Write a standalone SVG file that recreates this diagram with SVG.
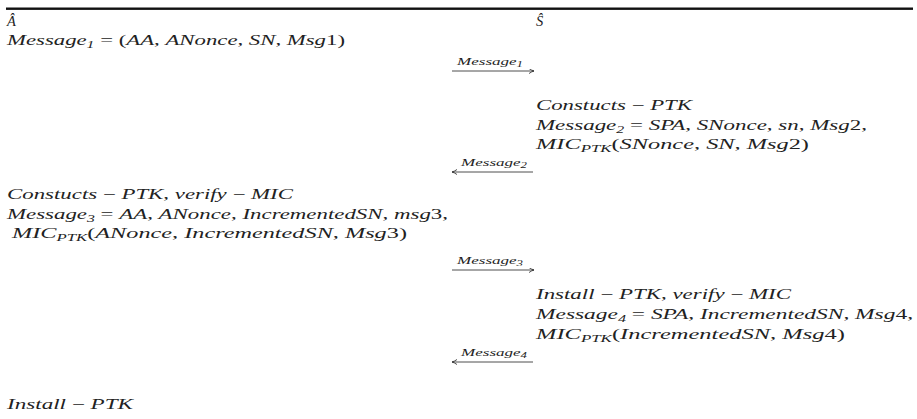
<svg xmlns="http://www.w3.org/2000/svg" width="917" height="419" viewBox="0 0 917 419">
<style>
text{font-family:"Liberation Serif","Times New Roman",serif;font-style:italic;font-size:14.5px;fill:#222}
.u{font-style:normal}
.s{font-size:10px}
.l{font-size:10px}
.ls{font-size:7.5px}
.arr{stroke:#222;stroke-width:0.8;fill:none}
</style>
<defs>
<marker id="ah" markerUnits="userSpaceOnUse" markerWidth="8" markerHeight="8" refX="5" refY="2.5" orient="auto">
<path d="M0,0 Q2.5,1.8 5,2.5 Q2.5,3.2 0,5" fill="none" stroke="#222" stroke-width="0.8"/>
</marker>
</defs>
<rect x="6" y="7.5" width="907" height="2.4" fill="#111"/>
<g id="A-header"><text x="7" y="26">Â</text></g>
<g id="S-header"><text x="536" y="26">Ŝ</text></g>
<g id="A-msg1"><text x="7" y="45" textLength="338" lengthAdjust="spacingAndGlyphs">Message<tspan class="s" dy="3">1</tspan><tspan class="u" dy="-3"> = (</tspan>AA<tspan class="u">, </tspan>ANonce<tspan class="u">, </tspan>SN<tspan class="u">, </tspan>Msg<tspan class="u">1)</tspan></text></g>
<g id="S-step1">
<text x="536" y="110" textLength="156" lengthAdjust="spacingAndGlyphs">Constucts<tspan class="u"> − </tspan>PTK</text>
<text x="536" y="130" textLength="331" lengthAdjust="spacingAndGlyphs">Message<tspan class="s" dy="3">2</tspan><tspan class="u" dy="-3"> = </tspan>SPA<tspan class="u">, </tspan>SNonce<tspan class="u">, </tspan>sn<tspan class="u">, </tspan>Msg<tspan class="u">2,</tspan></text>
<text x="536" y="149" textLength="273" lengthAdjust="spacingAndGlyphs">MIC<tspan class="s" dy="3">PTK</tspan><tspan class="u" dy="-3">(</tspan>SNonce<tspan class="u">, </tspan>SN<tspan class="u">, </tspan>Msg<tspan class="u">2)</tspan></text>
</g>
<g id="A-step2">
<text x="7" y="199" textLength="286" lengthAdjust="spacingAndGlyphs">Constucts<tspan class="u"> − </tspan>PTK<tspan class="u">, </tspan>verify<tspan class="u"> − </tspan>MIC</text>
<text x="7" y="219" textLength="441" lengthAdjust="spacingAndGlyphs">Message<tspan class="s" dy="3">3</tspan><tspan class="u" dy="-3"> = </tspan>AA<tspan class="u">, </tspan>ANonce<tspan class="u">, </tspan>IncrementedSN<tspan class="u">, </tspan>msg<tspan class="u">3,</tspan></text>
<text x="12" y="238" textLength="395" lengthAdjust="spacingAndGlyphs">MIC<tspan class="s" dy="3">PTK</tspan><tspan class="u" dy="-3">(</tspan>ANonce<tspan class="u">, </tspan>IncrementedSN<tspan class="u">, </tspan>Msg<tspan class="u">3)</tspan></text>
</g>
<g id="S-step3">
<text x="536" y="299" textLength="255" lengthAdjust="spacingAndGlyphs">Install<tspan class="u"> − </tspan>PTK<tspan class="u">, </tspan>verify<tspan class="u"> − </tspan>MIC</text>
<text x="536" y="319" textLength="377" lengthAdjust="spacingAndGlyphs">Message<tspan class="s" dy="3">4</tspan><tspan class="u" dy="-3"> = </tspan>SPA<tspan class="u">, </tspan>IncrementedSN<tspan class="u">, </tspan>Msg<tspan class="u">4,</tspan></text>
<text x="536" y="339" textLength="309" lengthAdjust="spacingAndGlyphs">MIC<tspan class="s" dy="3">PTK</tspan><tspan class="u" dy="-3">(</tspan>IncrementedSN<tspan class="u">, </tspan>Msg<tspan class="u">4)</tspan></text>
</g>
<g id="A-step4"><text x="7" y="409" textLength="126" lengthAdjust="spacingAndGlyphs">Install<tspan class="u"> − </tspan>PTK</text></g>
<g id="connectors">
<text class="l" x="457" y="65" textLength="66" lengthAdjust="spacingAndGlyphs">Message<tspan class="ls" dy="2">1</tspan></text>
<line class="arr" x1="452" y1="71" x2="534" y2="71" marker-end="url(#ah)"/>
<text class="l" x="461" y="166" textLength="66" lengthAdjust="spacingAndGlyphs">Message<tspan class="ls" dy="2">2</tspan></text>
<line class="arr" x1="533" y1="172" x2="452" y2="172" marker-end="url(#ah)"/>
<text class="l" x="457" y="264" textLength="66" lengthAdjust="spacingAndGlyphs">Message<tspan class="ls" dy="2">3</tspan></text>
<line class="arr" x1="452" y1="270" x2="534" y2="270" marker-end="url(#ah)"/>
<text class="l" x="461" y="356" textLength="66" lengthAdjust="spacingAndGlyphs">Message<tspan class="ls" dy="2">4</tspan></text>
<line class="arr" x1="533" y1="362" x2="452" y2="362" marker-end="url(#ah)"/>
</g>
</svg>
